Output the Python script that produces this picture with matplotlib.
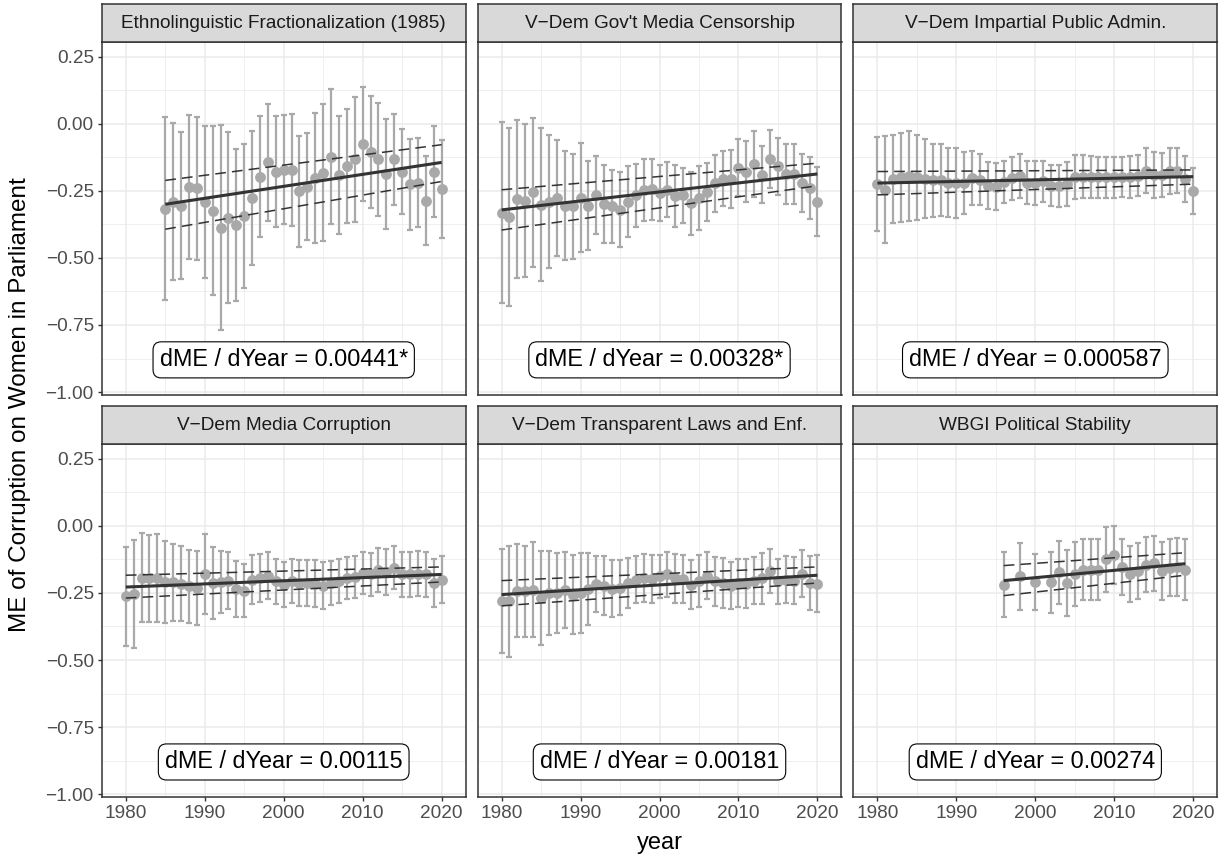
import matplotlib
matplotlib.use("Agg")
import matplotlib.pyplot as plt
from matplotlib.ticker import MultipleLocator, FuncFormatter

plt.rcParams['font.family'] = ['Liberation Sans', 'DejaVu Sans']

# facet titles and slope annotations
titles = [
    "Ethnolinguistic Fractionalization (1985)",
    "V\u2212Dem Gov't Media Censorship",
    "V\u2212Dem Impartial Public Admin.",
    "V\u2212Dem Media Corruption",
    "V\u2212Dem Transparent Laws and Enf.",
    "WBGI Political Stability",
]
slope_labels = [
    "dME / dYear = 0.00441*",
    "dME / dYear = 0.00328*",
    "dME / dYear = 0.000587",
    "dME / dYear = 0.00115",
    "dME / dYear = 0.00181",
    "dME / dYear = 0.00274",
]

years_ethno = list(range(1985, 2021))
years_vdem = list(range(1980, 2021))
years_wbgi = [1996, 1998, 2000] + list(range(2002, 2020))

# marginal effects and 95% CI half-widths
me_ethno = [-0.317, -0.290, -0.305, -0.236, -0.240, -0.292, -0.325, -0.387, -0.350, -0.377,
            -0.343, -0.277, -0.197, -0.144, -0.178, -0.172, -0.172, -0.252, -0.234, -0.203,
            -0.182, -0.122, -0.190, -0.157, -0.132, -0.075, -0.106, -0.132, -0.187, -0.132,
            -0.178, -0.225, -0.219, -0.286, -0.178, -0.244]
ci_ethno = [0.341, 0.294, 0.275, 0.269, 0.267, 0.282, 0.315, 0.382, 0.319, 0.284,
            0.269, 0.249, 0.225, 0.219, 0.208, 0.203, 0.210, 0.208, 0.199, 0.243,
            0.255, 0.252, 0.220, 0.211, 0.233, 0.212, 0.208, 0.211, 0.205, 0.169,
            0.160, 0.170, 0.167, 0.167, 0.171, 0.183]

me_cens = [-0.331, -0.348, -0.280, -0.286, -0.256, -0.302, -0.290, -0.277, -0.305, -0.308,
           -0.275, -0.305, -0.265, -0.299, -0.308, -0.321, -0.290, -0.267, -0.246, -0.244,
           -0.259, -0.246, -0.269, -0.267, -0.296, -0.277, -0.255, -0.221, -0.205, -0.205,
           -0.163, -0.178, -0.149, -0.190, -0.132, -0.159, -0.187, -0.188, -0.221, -0.240,
           -0.290]
ci_cens = [0.338, 0.331, 0.294, 0.285, 0.277, 0.285, 0.247, 0.215, 0.203, 0.196,
           0.204, 0.166, 0.144, 0.147, 0.136, 0.140, 0.132, 0.116, 0.115, 0.114,
           0.104, 0.102, 0.114, 0.104, 0.118, 0.118, 0.107, 0.106, 0.103, 0.109,
           0.107, 0.113, 0.123, 0.107, 0.108, 0.106, 0.113, 0.112, 0.109, 0.116,
           0.128]

me_admin = [-0.224, -0.246, -0.206, -0.200, -0.194, -0.200, -0.205, -0.211, -0.211, -0.219,
            -0.221, -0.221, -0.203, -0.209, -0.231, -0.234, -0.218, -0.203, -0.194, -0.219,
            -0.221, -0.215, -0.231, -0.231, -0.225, -0.200, -0.197, -0.197, -0.200, -0.200,
            -0.200, -0.197, -0.197, -0.193, -0.175, -0.190, -0.190, -0.175, -0.175, -0.206,
            -0.250]
ci_admin = [0.176, 0.199, 0.164, 0.165, 0.168, 0.160, 0.148, 0.137, 0.134, 0.130,
            0.129, 0.117, 0.100, 0.095, 0.088, 0.089, 0.079, 0.081, 0.083, 0.081,
            0.081, 0.075, 0.076, 0.079, 0.081, 0.082, 0.079, 0.078, 0.078, 0.076,
            0.076, 0.075, 0.078, 0.076, 0.084, 0.085, 0.082, 0.085, 0.083, 0.087,
            0.087]

me_mcorr = [-0.263, -0.254, -0.194, -0.196, -0.194, -0.210, -0.210, -0.215, -0.225, -0.231,
            -0.181, -0.213, -0.209, -0.204, -0.235, -0.241, -0.200, -0.194, -0.185, -0.206,
            -0.219, -0.206, -0.213, -0.213, -0.216, -0.223, -0.213, -0.206, -0.194, -0.191,
            -0.175, -0.181, -0.165, -0.173, -0.156, -0.181, -0.181, -0.179, -0.181, -0.213,
            -0.200]
ci_mcorr = [0.184, 0.200, 0.166, 0.163, 0.163, 0.153, 0.144, 0.139, 0.136, 0.139,
            0.149, 0.133, 0.117, 0.106, 0.103, 0.100, 0.091, 0.089, 0.089, 0.084,
            0.084, 0.083, 0.086, 0.084, 0.088, 0.088, 0.083, 0.081, 0.079, 0.079,
            0.079, 0.081, 0.081, 0.086, 0.080, 0.083, 0.084, 0.084, 0.084, 0.089,
            0.089]

me_laws = [-0.279, -0.281, -0.241, -0.244, -0.238, -0.269, -0.250, -0.250, -0.238, -0.256,
           -0.250, -0.235, -0.216, -0.223, -0.235, -0.231, -0.213, -0.200, -0.194, -0.198,
           -0.188, -0.181, -0.196, -0.198, -0.219, -0.206, -0.185, -0.206, -0.213, -0.223,
           -0.213, -0.216, -0.204, -0.196, -0.169, -0.206, -0.200, -0.204, -0.178, -0.213,
           -0.215]
ci_laws = [0.194, 0.206, 0.175, 0.169, 0.178, 0.175, 0.156, 0.148, 0.141, 0.146,
           0.148, 0.133, 0.104, 0.110, 0.106, 0.103, 0.094, 0.088, 0.088, 0.091,
           0.081, 0.085, 0.090, 0.088, 0.090, 0.096, 0.089, 0.091, 0.094, 0.088,
           0.088, 0.091, 0.088, 0.094, 0.081, 0.084, 0.088, 0.088, 0.088, 0.099,
           0.106]

me_wbgi = [-0.219, -0.188, -0.209, -0.210, -0.173, -0.213, -0.178, -0.163, -0.163, -0.163,
           -0.125, -0.110, -0.153, -0.179, -0.169, -0.144, -0.140, -0.169, -0.156, -0.153,
           -0.163]
ci_wbgi = [0.121, 0.126, 0.106, 0.114, 0.118, 0.123, 0.119, 0.113, 0.113, 0.113,
           0.120, 0.108, 0.103, 0.103, 0.104, 0.103, 0.102, 0.108, 0.106, 0.108,
           0.115]

# trend line and its bounds at the first and last year of each panel
fit_lines = [[-0.300, -0.144], [-0.321, -0.187], [-0.221, -0.197],
             [-0.228, -0.181], [-0.256, -0.184], [-0.204, -0.141]]
upper_lines = [[-0.211, -0.078], [-0.246, -0.147], [-0.178, -0.172],
               [-0.184, -0.153], [-0.204, -0.153], [-0.148, -0.100]]
lower_lines = [[-0.393, -0.215], [-0.396, -0.231], [-0.265, -0.225],
               [-0.269, -0.209], [-0.298, -0.213], [-0.260, -0.184]]

years_list = [years_ethno, years_vdem, years_vdem, years_vdem, years_vdem, years_wbgi]
me_list = [me_ethno, me_cens, me_admin, me_mcorr, me_laws, me_wbgi]
ci_list = [ci_ethno, ci_cens, ci_admin, ci_mcorr, ci_laws, ci_wbgi]

W, H = 1222, 856
fig = plt.figure(figsize=(W / 100, H / 100), dpi=100)

col_left = [101.7, 477.5, 853.3]
panel_w = 364.0
row_top = [41.7, 443.8]
panel_h = 353.3
strip_h = 37.4

point_col = "#A9A9A9"
line_col = "#333333"
fmt_y = FuncFormatter(lambda v, p: f"{v:.2f}".replace("-", "\u2212"))

for i in range(6):
    r, c = divmod(i, 3)
    x0 = col_left[c] / W
    y0 = 1 - (row_top[r] + panel_h) / H
    ax = fig.add_axes([x0, y0, panel_w / W, panel_h / H])
    sax = fig.add_axes([x0, 1 - row_top[r] / H, panel_w / W, strip_h / H])

    yrs, me, ci = years_list[i], me_list[i], ci_list[i]
    ax.errorbar(yrs, me, yerr=ci, fmt='none', ecolor=point_col, elinewidth=1.6,
                capsize=2.5, capthick=1.6, zorder=2)
    ax.plot(yrs, me, 'o', color=point_col, ms=7.8, mec='none', zorder=3)
    ends = [yrs[0], yrs[-1]]
    ax.plot(ends, fit_lines[i], color=line_col, lw=2.2, zorder=4, solid_capstyle='butt')
    ax.plot(ends, upper_lines[i], color=line_col, lw=1.1, ls=(0, (7, 4)), zorder=4)
    ax.plot(ends, lower_lines[i], color=line_col, lw=1.1, ls=(0, (7, 4)), zorder=4)

    ax.text(2000, -0.88, slope_labels[i], ha='center', va='center', fontsize=16.8,
            color='black', zorder=5,
            bbox=dict(boxstyle='round,pad=0.28,rounding_size=0.35', fc='white',
                      ec='black', lw=0.8))

    ax.set_xlim(1976.95, 2023.05)
    ax.set_ylim(-1.011, 0.306)
    ax.xaxis.set_major_locator(MultipleLocator(10))
    ax.xaxis.set_minor_locator(MultipleLocator(5))
    ax.yaxis.set_major_locator(MultipleLocator(0.25))
    ax.yaxis.set_minor_locator(MultipleLocator(0.125))
    ax.yaxis.set_major_formatter(fmt_y)
    ax.grid(which='major', color='#EBEBEB', lw=1.1)
    ax.grid(which='minor', color='#EBEBEB', lw=0.55)
    ax.set_axisbelow(True)
    for s in ax.spines.values():
        s.set_color(line_col)
        s.set_linewidth(1.1)
    ax.tick_params(which='minor', length=0)
    ax.tick_params(which='major', length=3.2, width=1.0, color=line_col,
                   labelsize=13.7, labelcolor='#4D4D4D', pad=2.5)
    if c != 0:
        ax.tick_params(axis='y', which='major', length=0, labelleft=False)
    if r == 0:
        ax.tick_params(axis='x', which='major', length=0, labelbottom=False)

    sax.set_facecolor('#D9D9D9')
    sax.set_xticks([])
    sax.set_yticks([])
    for s in sax.spines.values():
        s.set_color(line_col)
        s.set_linewidth(1.1)
    sax.text(0.5, 0.5, titles[i], ha='center', va='center', fontsize=13.7,
             color='#1A1A1A', transform=sax.transAxes)

fig.text((col_left[0] + col_left[2] + panel_w) / 2 / W, 1 - 843 / H, "year",
         ha='center', va='center', fontsize=17)
fig.text(20 / W, 1 - 405 / H, "ME of Corruption on Women in Parliament",
         ha='center', va='center', rotation=90, fontsize=17.5)

fig.savefig("out.png", dpi=100)
